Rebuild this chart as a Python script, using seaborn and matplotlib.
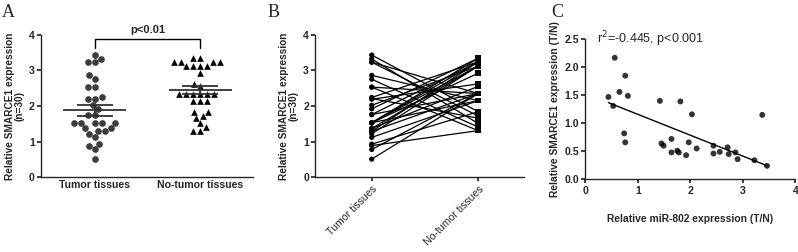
import numpy as np
import pandas as pd
import matplotlib
matplotlib.use("Agg")
import matplotlib.pyplot as plt
import seaborn as sns

# ------------------------------
# Data
# ------------------------------
groups = ["Tumor tissues", "No-tumor tissues"]

tumor = [3.43, 3.32, 3.23, 3.23, 2.86, 2.75, 2.53, 2.53, 2.24, 2.19,
         2.21, 2.02, 1.92, 1.76, 1.76, 1.53, 1.53, 1.53, 1.53, 1.53,
         1.37, 1.37, 1.29, 1.29, 1.22, 1.12, 0.93, 0.89, 0.78, 0.51]
# paired with tumor (same order) for panel B
normal = [1.84, 1.51, 2.35, 1.72, 2.15, 1.41, 2.35, 1.31, 3.24, 2.62,
          1.66, 3.12, 3.34, 2.35, 3.24, 3.12, 2.92, 3.24, 2.15, 3.34,
          3.12, 2.55, 3.24, 2.35, 3.12, 2.15, 1.84, 1.31, 2.35, 2.35]

mir802 = [0.44, 0.56, 0.53, 0.65, 0.76, 0.81, 0.74, 0.76, 1.42, 1.81,
          2.03, 1.45, 1.49, 1.64, 1.64, 1.75, 1.78, 1.92, 1.97, 2.12,
          2.44, 2.44, 2.56, 2.71, 2.73, 2.86, 2.90, 3.22, 3.37, 3.46]
smarce1_ratio = [1.47, 2.17, 1.31, 1.56, 1.85, 1.49, 0.82, 0.66, 1.40, 1.39,
                 1.16, 0.64, 0.60, 0.72, 0.48, 0.51, 0.48, 0.43, 0.66, 0.55,
                 0.60, 0.46, 0.49, 0.57, 0.45, 0.48, 0.36, 0.34, 1.15, 0.24]

n = len(tumor)
df = pd.DataFrame({
    "pair": list(range(n)) * 2,
    "group": [groups[0]] * n + [groups[1]] * n,
    "value": tumor + normal,
})
corr_df = pd.DataFrame({"mir": mir802, "smarce1": smarce1_ratio})

# ------------------------------
# Style
# ------------------------------
sns.set_theme(style="ticks")
plt.rcParams["font.family"] = ["Liberation Sans", "DejaVu Sans"]
plt.rcParams["axes.linewidth"] = 1.0
plt.rcParams["xtick.major.size"] = 3
plt.rcParams["ytick.major.size"] = 3
plt.rcParams["xtick.major.pad"] = 2
plt.rcParams["ytick.major.pad"] = 1.5

fig = plt.figure(figsize=(7.98, 2.52), dpi=100)
axA = fig.add_axes([0.0514, 0.2964, 0.2657, 0.5659])
axB = fig.add_axes([0.3951, 0.2964, 0.2615, 0.5659])
axC = fig.add_axes([0.7335, 0.2885, 0.2632, 0.5556])

ylab = "Relative SMARCE1 expression\n(n=30)"
tick_fs = 7.6

# ------------------------------
# Panel A: scatter with mean +/- SEM
# ------------------------------
sns.swarmplot(data=df[df.group == groups[0]], x="group", y="value", order=groups,
              marker="o", color="#3c3c3c", size=4.8, ax=axA)
sns.swarmplot(data=df[df.group == groups[1]], x="group", y="value", order=groups,
              marker="^", color="black", size=4.8, ax=axA)
for i, g in enumerate(groups):
    vals = df.loc[df.group == g, "value"]
    m = vals.mean()
    sem = vals.std() / np.sqrt(len(vals))
    axA.hlines(m, i - 0.3, i + 0.3, color="#333333", lw=1.3, zorder=5)
    axA.hlines([m - sem, m + sem], i - 0.17, i + 0.17, color="#333333", lw=1.3, zorder=5)
    axA.vlines(i, m - sem, m + sem, color="#333333", lw=1.3, zorder=5)
axA.plot([0, 0, 1, 1], [3.64, 3.88, 3.88, 3.64], color="black", lw=1.0, clip_on=False)
axA.text(0.5, 3.98, "p<0.01", ha="center", va="bottom", fontsize=8, fontweight="bold")
axA.set_xlim(-0.51, 1.5)
axA.set_ylim(0, 4)
axA.set_yticks([0, 1, 2, 3, 4])
axA.set_xlabel("")
axA.set_ylabel(ylab, fontsize=7.3, fontweight="bold", labelpad=3, linespacing=1.0)
axA.tick_params(axis="x", length=0)
for lab in axA.get_xticklabels() + axA.get_yticklabels():
    lab.set_fontsize(tick_fs)
    lab.set_fontweight("bold")
sns.despine(ax=axA)

# ------------------------------
# Panel B: paired lines
# ------------------------------
sns.lineplot(data=df, x="group", y="value", units="pair", estimator=None,
             color="black", lw=0.9, ax=axB, sort=False)
sns.scatterplot(data=df[df.group == groups[0]], x="group", y="value", marker="o",
                color="black", s=14, edgecolor="none", ax=axB, zorder=4)
sns.scatterplot(data=df[df.group == groups[1]], x="group", y="value", marker="s",
                color="black", s=16, edgecolor="none", ax=axB, zorder=4)
axB.set_xlim(-0.53, 1.43)
axB.set_ylim(0, 4)
axB.set_yticks([0, 1, 2, 3, 4])
axB.set_xlabel("")
axB.set_ylabel(ylab, fontsize=7.3, fontweight="bold", labelpad=3, linespacing=1.0)
axB.set_xticks([0, 1])
axB.set_xticklabels(groups, rotation=45, ha="right", rotation_mode="anchor", fontsize=tick_fs)
for lab in axB.get_yticklabels():
    lab.set_fontsize(tick_fs)
    lab.set_fontweight("bold")
sns.despine(ax=axB)

# ------------------------------
# Panel C: correlation
# ------------------------------
sns.regplot(data=corr_df, x="mir", y="smarce1", ci=None, ax=axC,
            scatter_kws=dict(s=18, color="black", edgecolor="none"),
            line_kws=dict(color="black", lw=1.0))
axC.set_xlim(0, 4)
axC.set_ylim(0, 2.5)
axC.set_xticks([0, 1, 2, 3, 4])
axC.set_yticks([0, 0.5, 1.0, 1.5, 2.0, 2.5])
axC.set_yticklabels(["0.0", "0.5", "1.0", "1.5", "2.0", "2.5"])
axC.set_xlabel("Relative miR-802 expression (T/N)", fontsize=7.4, fontweight="bold", labelpad=13)
axC.set_ylabel("Relative SMARCE1 expression (T/N)", fontsize=7.4, fontweight="bold", labelpad=3)
for lab in axC.get_xticklabels() + axC.get_yticklabels():
    lab.set_fontsize(tick_fs)
    lab.set_fontweight("bold")
axC.text(0.22, 2.5, r"r$^2$=-0.445, p<0.001", ha="left", va="center", fontsize=9)
sns.despine(ax=axC)

# panel letters
for x, letter in [(0.002, "A"), (0.335, "B"), (0.691, "C")]:
    fig.text(x, 0.985, letter, ha="left", va="top", fontsize=13,
             family=["Liberation Serif", "DejaVu Serif"])

fig.savefig("out.png", dpi=100)
